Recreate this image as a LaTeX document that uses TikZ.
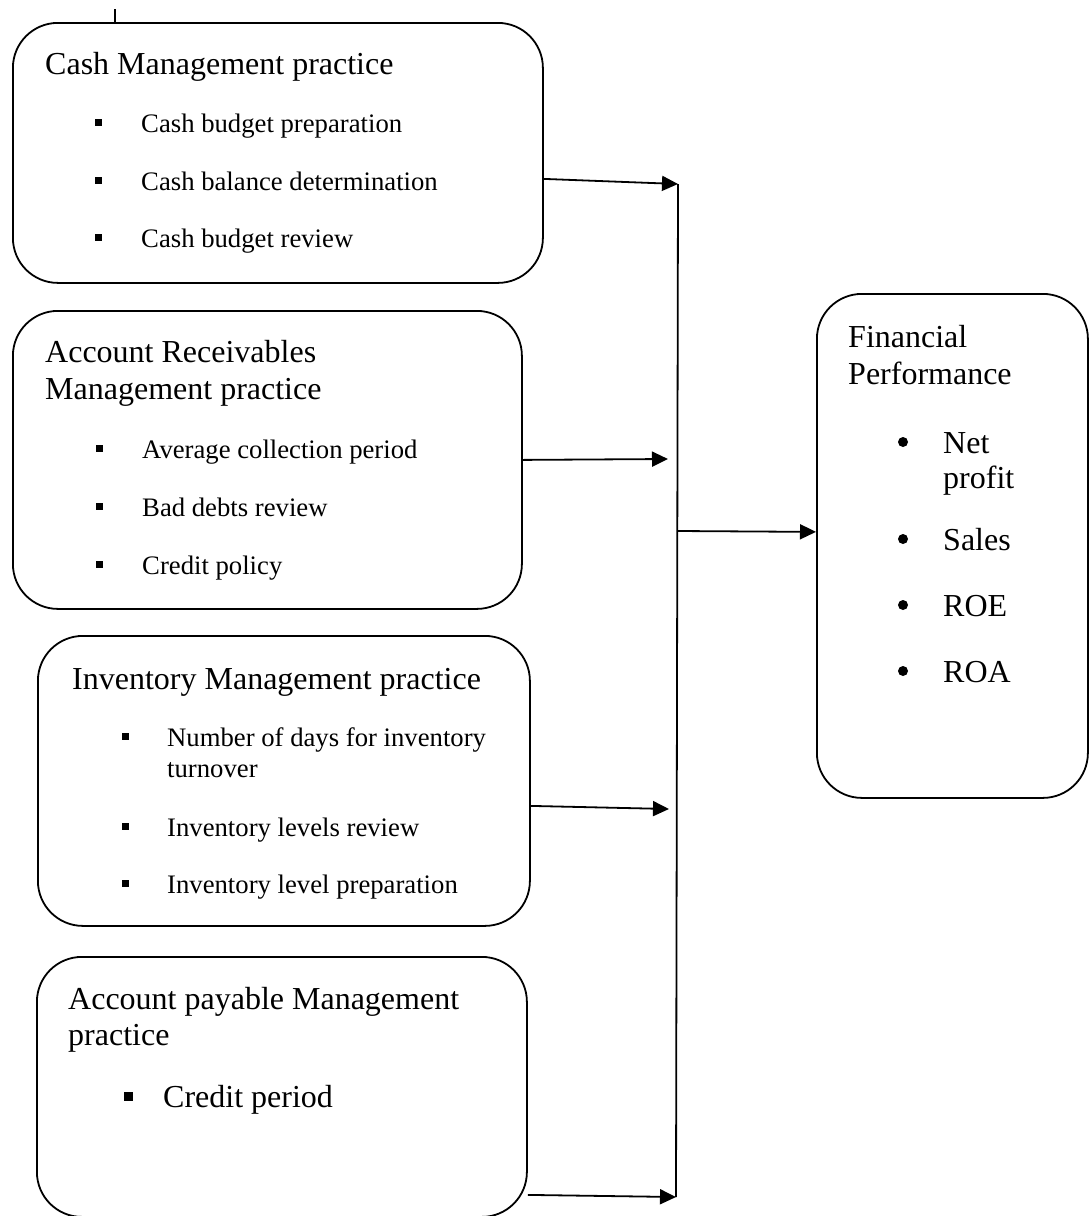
\documentclass[tikz,border=0pt]{standalone}
\usepackage{fontspec}
\setmainfont{Liberation Serif}
\usetikzlibrary{arrows.meta}
\begin{document}
\begin{tikzpicture}[x=1pt,y=-1pt,
  box/.style={draw, line width=1.8pt, rounded corners=45pt, rectangle, inner sep=0pt, anchor=north west},
  ttl/.style={anchor=base west, inner sep=0pt, font=\fontsize{32}{37}\selectfont},
  itm/.style={anchor=base west, inner sep=0pt, font=\fontsize{26.7}{31}\selectfont},
  conn/.style={line width=1.8pt, -{Triangle[length=16pt,width=15pt]}},
  plain/.style={line width=1.8pt},
  sq/.style={fill=black, rectangle, minimum size=7pt, inner sep=0pt},
  bigsq/.style={fill=black, rectangle, minimum size=9pt, inner sep=0pt},
  dot/.style={fill=black, circle, minimum size=10pt, inner sep=0pt},
]
\useasboundingbox (0,0) rectangle (1088,1216);

% boxes
\node[box, minimum width=530pt, minimum height=260pt] (cash) at (12,22) {};
\node[box, minimum width=509pt, minimum height=298pt] (ar) at (12,310) {};
\node[box, minimum width=492pt, minimum height=290pt] (inv) at (37,635) {};
\node[box, minimum width=490pt, minimum height=260pt] (pay) at (36,956) {};
\node[box, minimum width=271pt, minimum height=504pt] (fin) at (816,293) {};

% top tick
\coordinate (t0) at (115,9);
\draw[plain] (t0) -- (t0 |- cash.north);

% junction coordinates
\coordinate (j1) at (678,184);
\coordinate (j2) at (668,459);
\coordinate (j3) at (669,809);
\coordinate (j4) at (676,1197);
\coordinate (jm) at (678,531);

% connectors
\draw[conn] ([yshift=-26pt]cash.east) -- (j1);
\draw[conn] (ar.east) -- (j2);
\draw[conn] ([yshift=-25pt]inv.east) -- (j3);
\draw[conn] ([yshift=-108pt]pay.east) -- (j4);
\draw[plain] (j1) -- (j4);
\draw[conn] (jm) -- ([yshift=14pt]fin.west);

% Cash box text
\node[ttl] (cT) at (45,74) {Cash Management practice};
\node[sq] (cb1) at (98.5,122.5) {};
\node[itm] (c1) at (141,132) {Cash budget preparation};
\node[sq] (cb2) at (98.5,180.5) {};
\node[itm] (c2) at (141,190) {Cash balance determination};
\node[sq] (cb3) at (98.5,237.5) {};
\node[itm] (c3) at (141,247) {Cash budget review};

% AR box text
\node[ttl] (aT1) at (45,362) {Account Receivables};
\node[ttl] (aT2) at (45,399) {Management practice};
\node[sq] (ab1) at (99,448.5) {};
\node[itm] (a1) at (142,458) {Average collection period};
\node[sq] (ab2) at (99,506.5) {};
\node[itm] (a2) at (142,516) {Bad debts review};
\node[sq] (ab3) at (99,564.5) {};
\node[itm] (a3) at (142,574) {Credit policy};

% Inventory box text
\node[ttl] (iT) at (72,689) {Inventory Management practice};
\node[sq] (ib1) at (125,736.5) {};
\node[itm] (i1) at (167,746) {Number of days for inventory};
\node[itm] (i1b) at (167,777) {turnover};
\node[sq] (ib2) at (125,826.5) {};
\node[itm] (i2) at (167,836) {Inventory levels review};
\node[sq] (ib3) at (125,883.5) {};
\node[itm] (i3) at (167,893) {Inventory level preparation};

% Payable box text
\node[ttl] (pT1) at (68,1009) {Account payable Management};
\node[ttl] (pT2) at (68,1045) {practice};
\node[bigsq] (pb1) at (128,1096) {};
\node[ttl] (p1) at (163,1107) {Credit period};

% Financial box text
\node[ttl] (fT1) at (848,347) {Financial};
\node[ttl] (fT2) at (848,384) {Performance};
\node[dot] (fb1) at (903,442) {};
\node[ttl] (f1) at (943,453) {Net};
\node[ttl] (f1b) at (943,488) {profit};
\node[dot] (fb2) at (903,539) {};
\node[ttl] (f2) at (943,550) {Sales};
\node[dot] (fb3) at (903,605) {};
\node[ttl] (f3) at (943,616) {ROE};
\node[dot] (fb4) at (903,671) {};
\node[ttl] (f4) at (943,682) {ROA};
\end{tikzpicture}
\end{document}
